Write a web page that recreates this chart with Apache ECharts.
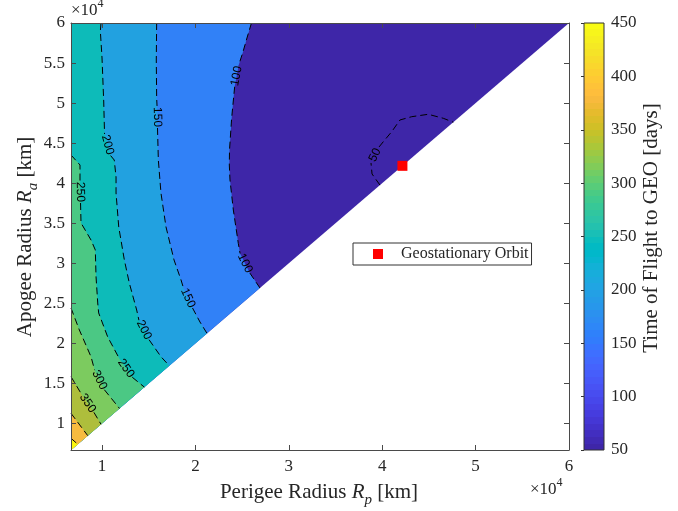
<!DOCTYPE html>
<html>
<head>
<meta charset="utf-8">
<script src="https://cdn.jsdelivr.net/npm/echarts@6/dist/echarts.min.js"></script>
<style>
html, body { margin: 0; padding: 0; background: #fff; }
#chart { width: 678px; height: 511px; }
</style>
</head>
<body>
<div id="chart"></div>
<script>
// Orbit radius limits [km]: LEO parking (300 km altitude) up to 60,000 km
const R_MIN = 6678;
const R_MAX = 60000;
const R_GEO = 42164;

// Tick positions
const xTicks = [10000, 20000, 30000, 40000, 50000, 60000];
const yTicks = [10000, 15000, 20000, 25000, 30000, 35000, 40000, 45000, 50000, 55000, 60000];
const cbTicks = [50, 100, 150, 200, 250, 300, 350, 400, 450];

// Contour levels of time of flight [days]
const levels = [50, 100, 150, 200, 250, 300, 350, 400, 450];

// Contour lines as [Rp, Ra] in km; null marks the break where the level label sits
const contour50 = [[39760, 39760], [38910, 41150], [38800, 42520], null, [39660, 44520], [40120, 45180],
  [41020, 46430], [41900, 47890], [43160, 48300], [44930, 48600], [46540, 48100], [47610, 47610]];
const contour100 = [[26000, 60000], [25520, 58130], [25090, 56380], [24630, 54730], null, [24200, 52030],
  [23880, 48140], [23650, 44140], [23630, 42270], [23700, 40400], [24060, 36650], [24590, 32490],
  [24780, 31220], null, [25830, 28770], [26910, 26910]];
const contour150 = [[15850, 60000], [15810, 55380], [15850, 50640], [15890, 49640], null, [15940, 46890],
  [16030, 42890], [16310, 38770], [16850, 34530], [17710, 30410], [18460, 27910], [18720, 26910], null,
  [19690, 24410], [20490, 22660], [21240, 21240]];
const contour200 = [[9890, 60000], [9820, 59000], [10000, 55630], [10180, 50260], [10270, 46140], null,
  [10920, 43440], [11310, 42890], [11500, 40770], [11500, 38770], [11790, 34530], [12390, 30410],
  [12920, 27530], [13710, 24160], [13950, 22890], null, [15040, 20440], [16310, 18330], [17200, 17200]];
const contour250 = [[6678, 43520], [7640, 42270], [7640, 40270], null, [7700, 37520], [7750, 35030],
  [8820, 32900], [9280, 31660], [9360, 28280], [9540, 25040], [9640, 23790], [10610, 20790],
  [11890, 18010], null, [13240, 15760], [14530, 14530]];
const contour300 = [[6678, 24410], [7570, 21670], [8820, 18330], [9210, 16650], null, [10250, 14200],
  [11140, 12920], [11870, 11870]];
const contour350 = [[6678, 15830], [7210, 14800], [7800, 13650], null, [9130, 11380], [9890, 9890]];
const contour400 = [[6678, 11260], [8470, 8470]];
const contour450 = [[6678, 8140], [7400, 7400]];

const contours = [contour50, contour100, contour150, contour200, contour250,
  contour300, contour350, contour400, contour450];

// Fill colour of the region below 100 days and of each region above a level
const baseColor = '#3e26a8';
const bandColors = ['#3e26a8', '#3181f7', '#22a1e0', '#0dbbb9', '#4bc884',
  '#7ccb5f', '#aebe3c', '#f7bb40', '#f9f50f'];

// Parula colour map (64 entries) for the colour bar
const parula = [
  [0.2422,0.1504,0.6603],[0.2504,0.1650,0.7076],[0.2578,0.1818,0.7511],[0.2647,0.1978,0.7952],
  [0.2706,0.2147,0.8364],[0.2751,0.2342,0.8710],[0.2783,0.2559,0.8991],[0.2803,0.2782,0.9221],
  [0.2813,0.3006,0.9414],[0.2810,0.3228,0.9579],[0.2795,0.3447,0.9717],[0.2760,0.3667,0.9829],
  [0.2699,0.3892,0.9906],[0.2602,0.4123,0.9952],[0.2440,0.4358,0.9988],[0.2206,0.4603,0.9973],
  [0.1963,0.4847,0.9892],[0.1834,0.5074,0.9798],[0.1786,0.5289,0.9682],[0.1764,0.5499,0.9520],
  [0.1687,0.5703,0.9359],[0.1540,0.5902,0.9218],[0.1460,0.6091,0.9079],[0.1380,0.6276,0.8973],
  [0.1248,0.6459,0.8883],[0.1113,0.6635,0.8763],[0.0952,0.6798,0.8598],[0.0689,0.6948,0.8394],
  [0.0297,0.7082,0.8163],[0.0036,0.7203,0.7917],[0.0067,0.7312,0.7660],[0.0433,0.7411,0.7394],
  [0.0964,0.7500,0.7120],[0.1408,0.7584,0.6842],[0.1717,0.7670,0.6554],[0.1938,0.7758,0.6251],
  [0.2161,0.7843,0.5923],[0.2470,0.7918,0.5567],[0.2906,0.7973,0.5188],[0.3406,0.8008,0.4789],
  [0.3909,0.8029,0.4354],[0.4456,0.8024,0.3909],[0.5044,0.7993,0.3480],[0.5616,0.7942,0.3045],
  [0.6174,0.7876,0.2612],[0.6720,0.7793,0.2227],[0.7242,0.7698,0.1910],[0.7738,0.7598,0.1646],
  [0.8203,0.7498,0.1535],[0.8634,0.7406,0.1596],[0.9035,0.7330,0.1774],[0.9393,0.7288,0.2100],
  [0.9728,0.7298,0.2394],[0.9956,0.7434,0.2371],[0.9970,0.7659,0.2199],[0.9952,0.7893,0.2028],
  [0.9892,0.8136,0.1885],[0.9786,0.8386,0.1766],[0.9676,0.8639,0.1643],[0.9610,0.8890,0.1537],
  [0.9597,0.9135,0.1423],[0.9628,0.9373,0.1265],[0.9691,0.9606,0.1064],[0.9769,0.9839,0.0805]
];

const SERIF = '"Liberation Serif", "Times New Roman", serif';
const AXIS_COLOR = '#4a4a4a';
const TEXT_COLOR = '#262626';
const TITLE_SIZE = 21;

function rgb(c) {
  return 'rgb(' + c.map(v => Math.round(v * 255)).join(',') + ')';
}

const cbStops = [];
parula.forEach((c, i) => {
  cbStops.push({ offset: i / parula.length, color: rgb(c) });
  cbStops.push({ offset: (i + 1) / parula.length, color: rgb(c) });
});

// Region where the time of flight exceeds a level: left/top of its contour
function regionPolygon(pts) {
  const p = pts.filter(q => q !== null);
  const poly = [];
  if (p[0][1] === R_MAX) poly.push([R_MIN, R_MAX]);
  p.forEach(q => poly.push(q));
  poly.push([R_MIN, R_MIN]);
  return poly;
}

const richTitle = {
  i: { fontFamily: SERIF, fontSize: TITLE_SIZE, fontStyle: 'italic', color: TEXT_COLOR },
  sub: { fontFamily: SERIF, fontSize: 15, fontStyle: 'italic', color: TEXT_COLOR,
    verticalAlign: 'bottom', lineHeight: 32 },
};
const richPow = {
  sup: { fontFamily: SERIF, fontSize: 12, color: TEXT_COLOR, verticalAlign: 'top', lineHeight: 26 },
};

function mainAxis(pos, ticks, showLabel) {
  return {
    gridIndex: 0,
    type: 'value',
    position: pos,
    min: R_MIN,
    max: R_MAX,
    z: 10,
    axisLine: { show: true, onZero: false, lineStyle: { color: AXIS_COLOR, width: 1 } },
    axisTick: { show: true, inside: true, length: 5, customValues: ticks,
      lineStyle: { color: AXIS_COLOR, width: 1 } },
    axisLabel: { show: showLabel, customValues: ticks, formatter: v => String(v / 10000),
      fontFamily: SERIF, fontSize: 17, color: TEXT_COLOR, margin: pos === 'left' ? 6 : 8 },
    splitLine: { show: false },
  };
}

const chart = echarts.init(document.getElementById('chart'), null, { renderer: 'canvas' });

const option = {
  animation: false,
  backgroundColor: '#fff',
  grid: [
    { left: 71, top: 23, width: 498, height: 427 },
    { left: 584, top: 23, width: 20, height: 427 },
  ],
  xAxis: [
    mainAxis('bottom', xTicks, true),
    mainAxis('top', xTicks, false),
    { gridIndex: 1, type: 'value', min: 0, max: 1, show: false },
  ],
  yAxis: [
    mainAxis('left', yTicks, true),
    mainAxis('right', yTicks, false),
    {
      gridIndex: 1, type: 'value', position: 'right', min: 50, max: 450, interval: 50, z: 10,
      axisLine: { show: false },
      axisTick: { show: true, inside: true, length: 3, lineStyle: { color: '#333' } },
      axisLabel: { fontFamily: SERIF, fontSize: 17, color: TEXT_COLOR, margin: 7 },
      splitLine: { show: false },
    },
  ],
  legend: {
    left: 353, top: 243,
    data: ['Geostationary Orbit'],
    icon: 'rect', itemWidth: 10, itemHeight: 10,
    borderColor: '#333', borderWidth: 1, borderRadius: 0,
    backgroundColor: '#fff',
    padding: [3, 3, 3, 20],
    textStyle: { fontFamily: SERIF, fontSize: 16, color: TEXT_COLOR, padding: [0, 0, 0, 13] },
  },
  graphic: [
    { type: 'text', x: 319, y: 492, z: 20,
      style: { text: 'Perigee Radius {i|R}{sub|p} [km]', align: 'center', verticalAlign: 'middle',
        font: TITLE_SIZE + 'px ' + SERIF, fill: TEXT_COLOR, rich: richTitle } },
    { type: 'text', x: 25, y: 237, rotation: Math.PI / 2, z: 20,
      style: { text: 'Apogee Radius {i|R}{sub|a} [km]', align: 'center', verticalAlign: 'middle',
        font: TITLE_SIZE + 'px ' + SERIF, fill: TEXT_COLOR, rich: richTitle } },
    { type: 'text', x: 651, y: 228, rotation: Math.PI / 2, z: 20,
      style: { text: 'Time of Flight to GEO [days]', align: 'center', verticalAlign: 'middle',
        font: TITLE_SIZE + 'px ' + SERIF, fill: TEXT_COLOR } },
    { type: 'text', x: 71, y: 11, z: 20,
      style: { text: '\u00d710{sup|4}', align: 'left', verticalAlign: 'middle',
        font: '17px ' + SERIF, fill: TEXT_COLOR, rich: richPow } },
    { type: 'text', x: 530, y: 490, z: 20,
      style: { text: '\u00d710{sup|4}', align: 'left', verticalAlign: 'middle',
        font: '17px ' + SERIF, fill: TEXT_COLOR, rich: richPow } },
  ],
  series: [
    {
      // filled contour regions
      type: 'custom',
      xAxisIndex: 0, yAxisIndex: 0,
      z: 1,
      silent: true,
      data: levels.map((l, i) => [i]),
      renderItem: (params, api) => {
        const i = api.value(0);
        const poly = i === 0
          ? [[R_MIN, R_MIN], [R_MIN, R_MAX], [R_MAX, R_MAX]]
          : regionPolygon(contours[i]);
        return {
          type: 'polygon',
          shape: { points: poly.map(p => api.coord(p)) },
          style: { fill: i === 0 ? baseColor : bandColors[i], stroke: null },
        };
      },
    },
    {
      // dashed contour lines with inline level labels
      type: 'custom',
      xAxisIndex: 0, yAxisIndex: 0,
      z: 2,
      silent: true,
      data: levels.map((l, i) => [i]),
      renderItem: (params, api) => {
        const i = api.value(0);
        const pts = contours[i];
        const children = [];
        let seg = [];
        const flush = () => {
          if (seg.length > 1) {
            children.push({ type: 'polyline', shape: { points: seg },
              style: { stroke: '#000', lineWidth: 1, lineDash: [7, 4], fill: null } });
          }
          seg = [];
        };
        for (let k = 0; k < pts.length; k++) {
          if (pts[k] === null) {
            flush();
            const a = api.coord(pts[k - 1]);
            const b = api.coord(pts[k + 1]);
            let ang = Math.atan2(-(b[1] - a[1]), b[0] - a[0]);
            if (ang > Math.PI / 2) ang -= Math.PI;
            if (ang < -Math.PI / 2) ang += Math.PI;
            children.push({ type: 'text', x: (a[0] + b[0]) / 2, y: (a[1] + b[1]) / 2, rotation: ang,
              style: { text: String(levels[i]), x: 0, y: 0, align: 'center', verticalAlign: 'middle',
                font: '12px "Liberation Sans", Arial, sans-serif', fill: '#000' } });
          } else {
            seg.push(api.coord(pts[k]));
          }
        }
        flush();
        return { type: 'group', children };
      },
    },
    {
      name: 'Geostationary Orbit',
      type: 'scatter',
      xAxisIndex: 0, yAxisIndex: 0,
      z: 5,
      symbol: 'rect',
      symbolSize: 10,
      itemStyle: { color: '#ff0000', opacity: 1 },
      data: [[R_GEO, R_GEO]],
    },
    {
      // colour bar
      type: 'custom',
      xAxisIndex: 2, yAxisIndex: 2,
      z: 1,
      silent: true,
      data: [[0, cbTicks[0], cbTicks[cbTicks.length - 1]]],
      renderItem: (params, api) => {
        const p0 = api.coord([0, api.value(1)]);
        const p1 = api.coord([1, api.value(2)]);
        return {
          type: 'rect',
          shape: { x: p0[0], y: p1[1], width: p1[0] - p0[0], height: p0[1] - p1[1] },
          style: {
            fill: { type: 'linear', x: 0, y: 1, x2: 0, y2: 0, colorStops: cbStops },
            stroke: '#333', lineWidth: 1,
          },
        };
      },
    },
  ],
};

chart.setOption(option);
</script>
</body>
</html>
